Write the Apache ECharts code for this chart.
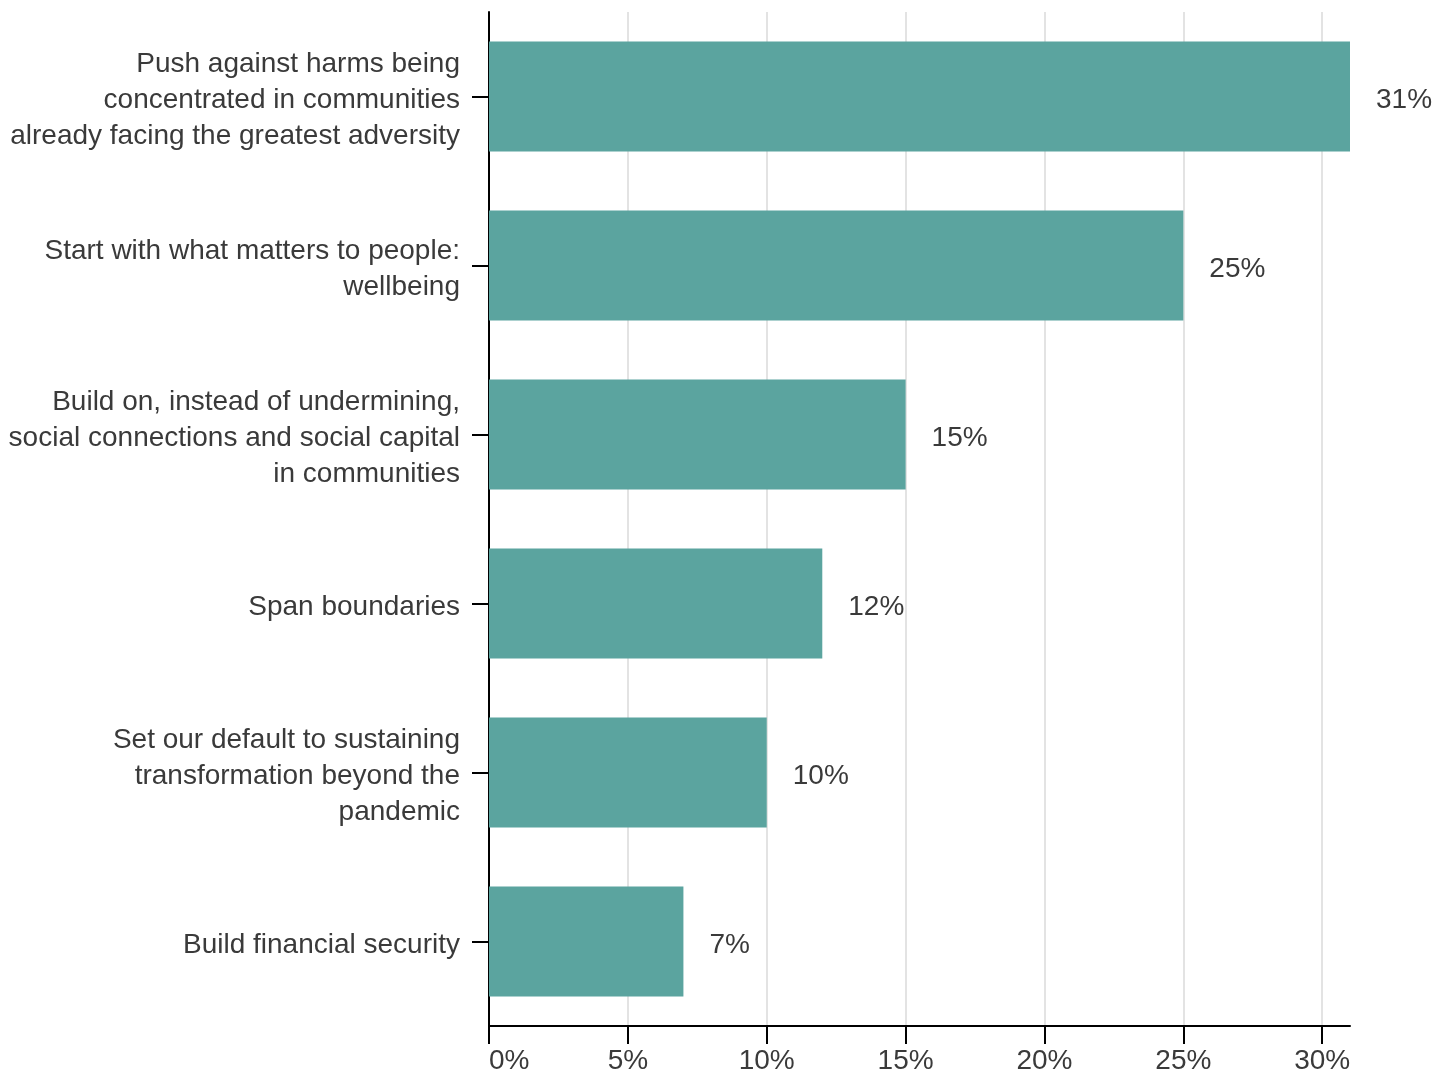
<!DOCTYPE html>
<html>
<head>
<meta charset="utf-8">
<script src="https://cdn.jsdelivr.net/npm/echarts@6/dist/echarts.min.js"></script>
<style>
html,body{margin:0;padding:0;background:#fff;}
#chart{width:1447px;height:1075px;}
</style>
</head>
<body>
<div id="chart"></div>
<script>
const categories = [
  "Push against harms being\nconcentrated in communities\nalready facing the greatest adversity",
  "Start with what matters to people:\nwellbeing",
  "Build on, instead of undermining,\nsocial connections and social capital\nin communities",
  "Span boundaries",
  "Set our default to sustaining\ntransformation beyond the\npandemic",
  "Build financial security"
];
const values = [31, 25, 15, 12, 10, 7];
const xTicks = [0, 5, 10, 15, 20, 25, 30];

const chart = echarts.init(document.getElementById('chart'));
const FONT = 'Liberation Sans, Arial, sans-serif';
chart.setOption({
  animation: false,
  grid: { left: 489, right: 97, top: 12, bottom: 49, containLabel: false },
  xAxis: {
    type: 'value', min: 0, max: 31,
    axisLine: { show: true, lineStyle: { color: '#000', width: 2 } },
    axisTick: { show: true, length: 18, lineStyle: { color: '#000', width: 2 }, customValues: xTicks },
    axisLabel: { customValues: xTicks, formatter: v => v + '%', fontSize: 28, fontFamily: FONT, color: '#3a3a3a', margin: 21, alignMinLabel: 'left' },
    splitLine: { show: true, lineStyle: { color: '#e3e3e3', width: 2 } }
  },
  yAxis: {
    type: 'category', inverse: true, data: categories,
    axisLine: { show: true, lineStyle: { color: '#000', width: 2 } },
    axisTick: { show: true, alignWithLabel: true, length: 17, lineStyle: { color: '#000', width: 2 } },
    axisLabel: {
      fontSize: 28, fontFamily: FONT, color: '#3a3a3a', margin: 29, lineHeight: 36, align: 'right',
      formatter: v => '{s| }\n' + v.split('\n').map(l => '{t|' + l + '}').join('\n'),
      rich: {
        s: { fontSize: 2, lineHeight: 8, height: 8 },
        t: { fontSize: 28, fontFamily: FONT, color: '#3a3a3a', lineHeight: 36, align: 'right' }
      }
    }
  },
  series: [{
    type: 'bar', data: values, barCategoryGap: '35%',
    itemStyle: { color: '#5ba49f' },
    label: { show: true, position: 'right', distance: 26, offset: [0, 4], formatter: p => p.value + '%', fontSize: 28, fontFamily: FONT, color: '#3a3a3a' }
  }]
});
</script>
</body>
</html>
